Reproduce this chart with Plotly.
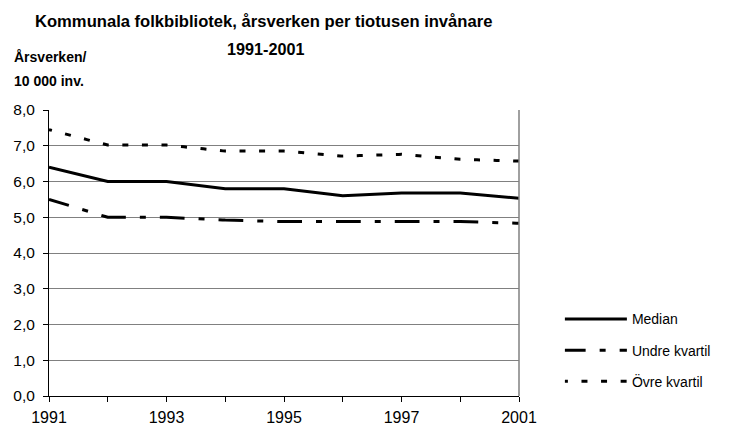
import plotly.graph_objects as go

years = ["1991", "1992", "1993", "1994", "1995", "1996", "1997", "1999", "2001"]
shown_labels = ["1991", "", "1993", "", "1995", "", "1997", "", "2001"]
median = [6.4, 6.0, 6.0, 5.8, 5.8, 5.6, 5.68, 5.68, 5.53]
undre_kvartil = [5.5, 5.0, 5.0, 4.92, 4.88, 4.87, 4.88, 4.88, 4.83]
ovre_kvartil = [7.45, 7.02, 7.02, 6.85, 6.85, 6.71, 6.76, 6.62, 6.57]
y_ticks = [0, 1, 2, 3, 4, 5, 6, 7, 8]

FONT = "Liberation Sans, Arial, sans-serif"

fig = go.Figure()
fig.add_trace(go.Scatter(x=years, y=median, name="Median", mode="lines",
                         line=dict(color="black", width=3), legendgroup="a"))
fig.add_trace(go.Scatter(x=years, y=undre_kvartil, name="Undre kvartil", mode="lines",
                         line=dict(color="black", width=3, dash="20.75px,14px,6px,14px,4px,0px"),
                         legendgroup="b"))
fig.add_trace(go.Scatter(x=years, y=ovre_kvartil, name="Övre kvartil", mode="lines",
                         line=dict(color="black", width=3, dash="3px,13.58px,3px,0px"),
                         legendgroup="c"))

fig.update_layout(
    width=731, height=429,
    margin=dict(l=49, r=212, t=110, b=33, autoexpand=False),
    paper_bgcolor="white", plot_bgcolor="white",
    separators=", ",
    font=dict(family=FONT, size=15, color="black"),
    showlegend=True,
    legend=dict(x=1.087, xanchor="left", y=0.324, yanchor="top",
                font=dict(size=14), tracegroupgap=10, itemwidth=62,
                bgcolor="rgba(0,0,0,0)"),
    xaxis=dict(type="category", categoryorder="array", categoryarray=years,
               range=[0, 8], tickmode="array", tickvals=years, ticktext=shown_labels,
               showline=True, linecolor="black", linewidth=1, automargin=False,
               ticks="outside", ticklen=5, tickcolor="black", ticklabelstandoff=2,
               showgrid=False, zeroline=False, tickfont=dict(size=16)),
    yaxis=dict(range=[0, 8], tickmode="array", tickvals=y_ticks, tickformat=".1f",
               showline=True, linecolor="black", linewidth=1, automargin=False,
               ticks="outside", ticklen=5, tickcolor="black", ticklabelstandoff=5,
               showgrid=True, gridcolor="#808080", gridwidth=1,
               zeroline=False, tickfont=dict(size=15.5)),
    annotations=[
        dict(text="<b>Kommunala folkbibliotek, årsverken per tiotusen invånare</b>",
             xref="paper", yref="paper", x=(263 - 49) / 470, y=1.0, yshift=89, xanchor="center",
             yanchor="middle", showarrow=False, font=dict(size=16.6)),
        dict(text="<b>1991-2001</b>",
             xref="paper", yref="paper", x=(265 - 49) / 470, y=1.0, yshift=61, xanchor="center",
             yanchor="middle", showarrow=False, font=dict(size=16.2)),
        dict(text="<b>Årsverken/</b>", xref="paper", yref="paper",
             x=0, xshift=-37, y=1.0, yshift=53, xanchor="left", yanchor="middle",
             showarrow=False, font=dict(size=14)),
        dict(text="<b>10 000 inv.</b>", xref="paper", yref="paper",
             x=0, xshift=-37, y=1.0, yshift=29, xanchor="left", yanchor="middle",
             showarrow=False, font=dict(size=14)),
    ],
    shapes=[dict(type="line", xref="paper", yref="paper", x0=1, x1=1, y0=0, y1=1,
                 line=dict(color="#808080", width=1.5))],
)

fig.write_html("out.html", config={"displayModeBar": False},
               post_script="document.body.style.margin='0px';")
